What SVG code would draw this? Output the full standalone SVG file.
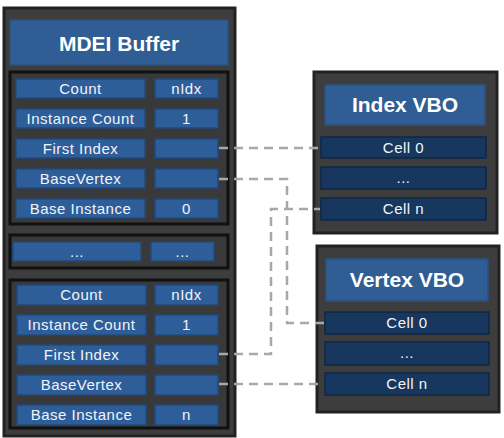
<svg xmlns="http://www.w3.org/2000/svg" width="504" height="438" viewBox="0 0 504 438">
  <style>
    .panel { fill: #3d3d3d; stroke: #222; stroke-width: 3; }
    .group { fill: #393939; stroke: #111; stroke-width: 3; }
    .title { fill: #2f5d94; stroke: #2a5283; stroke-width: 1.5; }
    .field { fill: #2e5e99; stroke: #234a7a; stroke-width: 1.5; }
    .cell { fill: #17375f; stroke: #0f2746; stroke-width: 1.5; }
    .ttl { font-family: "Liberation Sans", Arial, sans-serif; font-weight: bold; font-size: 21px; fill: #ffffff; text-anchor: middle; }
    .txt { font-family: "Liberation Sans", Arial, sans-serif; font-size: 15px; fill: #f2f4f8; text-anchor: middle; letter-spacing: 0.5px; }
    .link { fill: none; stroke: #a8a8a8; stroke-width: 2.5; stroke-dasharray: 9 6; }
  </style>

  <!-- MDEI buffer panel -->
  <g id="mdei-buffer">
    <rect class="panel" x="4" y="8" width="231" height="428"/>
    <rect class="title" x="10" y="20" width="218" height="45"/>
    <text class="ttl" x="119" y="51">MDEI Buffer</text>

    <!-- first draw command -->
    <g id="command-0">
      <rect class="group" x="10" y="72" width="218" height="152"/>
      <rect class="field" x="16" y="79" width="129" height="19"/>
      <rect class="field" x="155" y="79" width="63" height="19"/>
      <text class="txt" x="80.5" y="94">Count</text>
      <text class="txt" x="186.5" y="94">nIdx</text>
      <rect class="field" x="16" y="109" width="129" height="19"/>
      <rect class="field" x="155" y="109" width="63" height="19"/>
      <text class="txt" x="80.5" y="124">Instance Count</text>
      <text class="txt" x="186.5" y="124">1</text>
      <rect class="field" x="16" y="139" width="129" height="19"/>
      <rect class="field" x="155" y="139" width="63" height="19"/>
      <text class="txt" x="80.5" y="154">First Index</text>
      <rect class="field" x="16" y="169" width="129" height="19"/>
      <rect class="field" x="155" y="169" width="63" height="19"/>
      <text class="txt" x="80.5" y="184">BaseVertex</text>
      <rect class="field" x="16" y="199" width="129" height="19"/>
      <rect class="field" x="155" y="199" width="63" height="19"/>
      <text class="txt" x="80.5" y="214">Base Instance</text>
      <text class="txt" x="186.5" y="214">0</text>
    </g>

    <!-- elided commands -->
    <g id="command-ellipsis">
      <rect class="group" x="10" y="235" width="218" height="33"/>
      <rect class="field" x="13" y="242" width="128" height="19"/>
      <rect class="field" x="151" y="242" width="63" height="19"/>
      <text class="txt" x="77" y="257">...</text>
      <text class="txt" x="182.5" y="257">...</text>
    </g>

    <!-- last draw command -->
    <g id="command-n">
      <rect class="group" x="10" y="280" width="218" height="148"/>
      <rect class="field" x="17" y="285" width="129" height="20"/>
      <rect class="field" x="155" y="285" width="63" height="20"/>
      <text class="txt" x="81.5" y="300">Count</text>
      <text class="txt" x="186.5" y="300">nIdx</text>
      <rect class="field" x="17" y="315" width="129" height="20"/>
      <rect class="field" x="155" y="315" width="63" height="20"/>
      <text class="txt" x="81.5" y="330">Instance Count</text>
      <text class="txt" x="186.5" y="330">1</text>
      <rect class="field" x="17" y="345" width="129" height="20"/>
      <rect class="field" x="155" y="345" width="63" height="20"/>
      <text class="txt" x="81.5" y="360">First Index</text>
      <rect class="field" x="17" y="375" width="129" height="20"/>
      <rect class="field" x="155" y="375" width="63" height="20"/>
      <text class="txt" x="81.5" y="390">BaseVertex</text>
      <rect class="field" x="17" y="405" width="129" height="20"/>
      <rect class="field" x="155" y="405" width="63" height="20"/>
      <text class="txt" x="81.5" y="420">Base Instance</text>
      <text class="txt" x="186.5" y="420">n</text>
    </g>
  </g>

  <!-- Index VBO -->
  <g id="index-vbo">
    <rect class="panel" x="314" y="72" width="183" height="161"/>
    <rect class="title" x="325" y="85" width="160" height="40"/>
    <text class="ttl" x="405" y="112">Index VBO</text>
    <rect class="cell" x="321" y="137" width="165" height="21"/>
    <text class="txt" x="403.5" y="153">Cell 0</text>
    <rect class="cell" x="321" y="167" width="165" height="22"/>
    <text class="txt" x="403.5" y="183">...</text>
    <rect class="cell" x="321" y="198" width="165" height="22"/>
    <text class="txt" x="403.5" y="214">Cell n</text>
  </g>

  <!-- Vertex VBO -->
  <g id="vertex-vbo">
    <rect class="panel" x="317" y="246" width="182" height="166"/>
    <rect class="title" x="326" y="259" width="162" height="42"/>
    <text class="ttl" x="407" y="287">Vertex VBO</text>
    <rect class="cell" x="325" y="312" width="164" height="22"/>
    <text class="txt" x="407" y="328">Cell 0</text>
    <rect class="cell" x="325" y="342" width="164" height="23"/>
    <text class="txt" x="407" y="358">...</text>
    <rect class="cell" x="325" y="373" width="164" height="22"/>
    <text class="txt" x="407" y="389">Cell n</text>
  </g>

  <!-- offset references -->
  <g id="connectors">
    <path class="link" d="M219 148 H320"/>
    <path class="link" d="M219 179 H287 V323 H324"/>
    <path class="link" d="M219 354 H271 V209 H320"/>
    <path class="link" d="M219 384 H324"/>
  </g>
</svg>
